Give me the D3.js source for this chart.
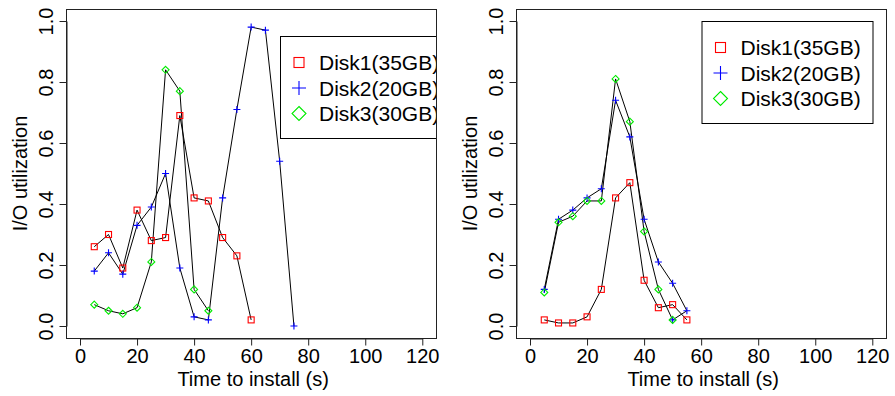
<!DOCTYPE html>
<html>
<head>
<meta charset="utf-8">
<script src="https://cdn.jsdelivr.net/npm/d3@7"></script>
<style>
  body { margin: 0; background: #fff; }
  svg { display: block; font-family: "Liberation Sans", Arial, Helvetica, sans-serif; }
</style>
</head>
<body>
<svg id="chart" width="895" height="396"></svg>
<script>
// tick labels
var xTicks = [0, 20, 40, 60, 80, 100, 120];
var yTicks = [0.0, 0.2, 0.4, 0.6, 0.8, 1.0];
var diskNames = ["Disk1(35GB)", "Disk2(20GB)", "Disk3(30GB)"];

// left panel
var disk1LeftTime = [5, 10, 15, 20, 25, 30, 35, 40, 45, 50, 55, 60];
var disk1LeftUtil = [0.26, 0.30, 0.19, 0.38, 0.28, 0.29, 0.69, 0.42, 0.41, 0.29, 0.23, 0.02];
var disk2LeftTime = [5, 10, 15, 20, 25, 30, 35, 40, 45, 50, 55, 60, 65, 70, 75];
var disk2LeftUtil = [0.18, 0.24, 0.17, 0.33, 0.39, 0.50, 0.19, 0.03, 0.02, 0.42, 0.71, 0.98, 0.97, 0.54, 0.00];
var disk3LeftTime = [5, 10, 15, 20, 25, 30, 35, 40, 45];
var disk3LeftUtil = [0.07, 0.05, 0.04, 0.06, 0.21, 0.84, 0.77, 0.12, 0.05];

// right panel
var disk1RightTime = [5, 10, 15, 20, 25, 30, 35, 40, 45, 50, 55];
var disk1RightUtil = [0.02, 0.01, 0.01, 0.03, 0.12, 0.42, 0.47, 0.15, 0.06, 0.07, 0.02];
var disk2RightTime = [5, 10, 15, 20, 25, 30, 35, 40, 45, 50, 55, 50];
var disk2RightUtil = [0.12, 0.35, 0.38, 0.42, 0.45, 0.74, 0.62, 0.35, 0.21, 0.14, 0.05, 0.02];
var disk3RightTime = [5, 10, 15, 20, 25, 30, 35, 40, 45, 50];
var disk3RightUtil = [0.11, 0.34, 0.36, 0.41, 0.41, 0.81, 0.67, 0.31, 0.12, 0.02];

var colors = ["rgb(255,0,0)", "rgb(0,0,255)", "rgb(0,235,0)"];
var shapes = ["square", "plus", "diamond"];

function zip(t, u) {
  return t.map(function(d, i) { return [d, u[i]]; });
}

// draw one open R-style symbol (pch 0, 3, 5) into g at (cx, cy)
function addSymbol(g, shape, cx, cy, s, color) {
  var h = s / 2;
  var p;
  if (shape === "square") {
    p = g.append("rect")
      .attr("x", cx - h).attr("y", cy - h)
      .attr("width", s).attr("height", s)
      .attr("fill", "none");
  } else if (shape === "plus") {
    p = g.append("path")
      .attr("d", "M" + (cx - h) + "," + cy + "H" + (cx + h) + "M" + cx + "," + (cy - h) + "V" + (cy + h))
      .attr("fill", "none");
  } else {
    p = g.append("polygon")
      .attr("points", [[cx, cy - h], [cx + h, cy], [cx, cy + h], [cx - h, cy]].join(" "))
      .attr("fill", "none");
  }
  p.attr("stroke", color)
    .attr("stroke-width", 1.1)
    .attr("stroke-opacity", 1);
}

var svg = d3.select("#chart");
var defs = svg.append("defs");

function drawPanel(offsetX, series, legendX, legendY, clipId) {
  var x = d3.scaleLinear().domain([0, 120]).range([offsetX + 80, offsetX + 422.3]);
  var y = d3.scaleLinear().domain([0, 1]).range([326, 21]);

  var bx0 = x(-4.8), bx1 = x(124.8), by0 = y(1.04), by1 = y(-0.04);

  defs.append("clipPath").attr("id", clipId)
    .append("rect")
    .attr("x", bx0).attr("y", by0)
    .attr("width", bx1 - bx0).attr("height", by1 - by0);

  var line = d3.line().x(d => x(d[0])).y(d => y(d[1]));

  // black connecting lines
  var lines = svg.append("g");
  series.forEach(function(s) {
    lines.append("path")
      .attr("d", line(s))
      .attr("fill", "none")
      .attr("stroke", "#000")
      .attr("stroke-width", 1);
  });

  // coloured open symbols, one group per disk
  series.forEach(function(s, i) {
    var size = shapes[i] === "square" ? 6 : 7;
    var pts = svg.append("g").attr("class", "disk" + (i + 1));
    s.forEach(function(d) {
      addSymbol(pts, shapes[i], x(d[0]), y(d[1]), size, colors[i]);
    });
  });

  // legend (clipped to the plot box like R does)
  var leg = svg.append("g")
    .attr("clip-path", "url(#" + clipId + ")");
  leg.append("rect")
    .attr("x", legendX + 0.5).attr("y", legendY + 0.5)
    .attr("width", 171).attr("height", 102)
    .attr("fill", "#fff")
    .attr("stroke", "#000");
  diskNames.forEach(function(name, i) {
    var ry = legendY + 26.5 + i * 25.5;
    var size = shapes[i] === "square" ? 10 : 14;
    addSymbol(leg, shapes[i], legendX + 19, ry, size, colors[i]);
    leg.append("text")
      .attr("x", legendX + 39).attr("y", ry + 7.5)
      .attr("font-size", "21px")
      .attr("fill", "#000")
      .text(name);
  });

  // plot box
  svg.append("rect")
    .attr("x", Math.round(bx0) + 0.5).attr("y", Math.round(by0) + 0.5)
    .attr("width", Math.round(bx1 - bx0)).attr("height", Math.round(by1 - by0))
    .attr("fill", "none")
    .attr("stroke", "#222");

  // x axis
  var xAxis = svg.append("g")
    .attr("transform", "translate(0," + (Math.round(by1) + 0.5) + ")")
    .call(d3.axisBottom(x).tickValues(xTicks).tickSize(7).tickSizeOuter(0).tickFormat(d3.format("d")));
  xAxis.select(".domain").attr("stroke", "#222");
  xAxis.selectAll(".tick line").attr("stroke", "#222");
  xAxis.selectAll("text")
    .attr("y", 24).attr("dy", 0)
    .attr("font-size", "20px")
    .attr("font-family", null)
    .attr("fill", "#000");

  // y axis
  var yAxis = svg.append("g")
    .attr("transform", "translate(" + (Math.round(bx0) + 0.5) + ",0)")
    .call(d3.axisLeft(y).tickValues(yTicks).tickSize(7).tickSizeOuter(0).tickFormat(d3.format(".1f")));
  yAxis.select(".domain").attr("stroke", "#222");
  yAxis.selectAll(".tick line").attr("stroke", "#222");
  yAxis.selectAll("text")
    .attr("transform", "rotate(-90)")
    .attr("x", 0).attr("y", -14).attr("dy", 0)
    .attr("text-anchor", "middle")
    .attr("font-size", "20px")
    .attr("font-family", null)
    .attr("fill", "#000");

  // axis titles
  svg.append("text")
    .attr("x", (bx0 + bx1) / 2 + 2).attr("y", 386)
    .attr("text-anchor", "middle")
    .attr("font-size", "20px")
    .text("Time to install (s)");

  svg.append("text")
    .attr("transform", "translate(" + (offsetX + 26.5) + "," + ((by0 + by1) / 2) + ") rotate(-90)")
    .attr("text-anchor", "middle")
    .attr("font-size", "20px")
    .text("I/O utilization");
}

drawPanel(0, [
  zip(disk1LeftTime, disk1LeftUtil),
  zip(disk2LeftTime, disk2LeftUtil),
  zip(disk3LeftTime, disk3LeftUtil)
], 280, 36, "clip-left");

drawPanel(450, [
  zip(disk1RightTime, disk1RightUtil),
  zip(disk2RightTime, disk2RightUtil),
  zip(disk3RightTime, disk3RightUtil)
], 701.5, 21, "clip-right");
</script>
</body>
</html>
